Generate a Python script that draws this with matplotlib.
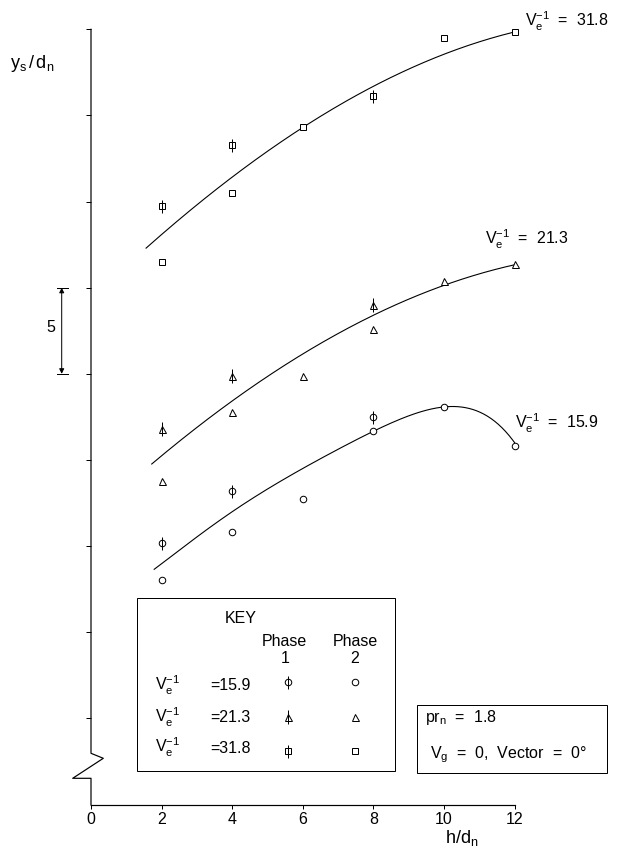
import numpy as np
import matplotlib
matplotlib.use("Agg")
from matplotlib import pyplot as plt
from matplotlib import transforms as mtransforms
from matplotlib.lines import Line2D
from matplotlib.patches import Rectangle

plt.rcParams['font.family'] = ['Liberation Sans', 'DejaVu Sans']
plt.rcParams['mathtext.fontset'] = 'custom'
plt.rcParams['mathtext.rm'] = 'Liberation Sans'
plt.rcParams['mathtext.it'] = 'Liberation Sans:italic'
plt.rcParams['mathtext.bf'] = 'Liberation Sans:bold'

W, H = 621, 857
FS = 16

# measured points, x = h/dn, y = ys/dn (axis has no numbers, 5 units per tick)
h_phase1 = [2, 4, 8]
h_phase2 = [2, 4, 6, 8, 10, 12]
h_phase2_318 = [2, 4, 6, 10, 12]

ys_318_p1 = [29.74, 33.28, 36.15]
ys_318_p2 = [26.51, 30.51, 34.31, 39.48, 39.83]
ys_213_p1 = [16.78, 19.85, 23.99]
ys_213_p2 = [13.78, 17.80, 19.87, 22.60, 25.39, 26.36]
ys_159_p1 = [10.19, 13.21, 17.51]
ys_159_p2 = [8.03, 10.80, 12.73, 16.70, 18.09, 15.81]

# the hand drawn curves
curve_318_h = [1.56, 4, 6, 8, 10, 12]
curve_318_ys = [27.29, 31.44, 34.31, 36.63, 38.61, 39.83]
curve_213_h = [1.72, 4, 6, 8, 10, 12]
curve_213_ys = [14.75, 18.48, 21.09, 23.41, 25.16, 26.32]
curve_159_h = [1.79, 3, 4, 5, 6, 7, 8, 9, 10, 11, 12]
curve_159_ys = [8.65, 10.54, 12.0, 13.29, 14.51, 15.63, 16.70, 17.51, 18.09, 17.80, 16.00]

series_names = ['15.9', '21.3', '31.8']
x_ticks = [0, 2, 4, 6, 8, 10, 12]
y_ticks = [0, 5, 10, 15, 20, 25, 30, 35, 40]
scale_bar = (20, 25)


def fitted(xs, ys, deg):
    c = np.polyfit(xs, ys, deg)
    xx = np.linspace(xs[0], xs[-1], 200)
    return xx, np.polyval(c, xx)


fig = plt.figure(figsize=(W / 72, H / 72), dpi=72)
fig.patch.set_facecolor('white')
# pixel coords from the top left corner
px = mtransforms.Affine2D().scale(1 / W, -1 / H).translate(0, 1) + fig.transFigure

x0, x12 = 91, 514.6
ytop, ybot = 29.3, 805
ax = fig.add_axes([x0 / W, 1 - ybot / H, (x12 - x0) / W, (ybot - ytop) / H])
ax.set_xlim(0, 12)
ax.set_ylim(-5.03, 40)
for s in ['top', 'right', 'left']:
    ax.spines[s].set_visible(False)
ax.spines['bottom'].set_linewidth(1.2)
ax.set_xticks(x_ticks)
ax.set_xticklabels([str(v) for v in x_ticks])
ax.tick_params(axis='x', direction='out', length=4, width=1, labelsize=FS, pad=3)
ax.set_yticks(y_ticks)
ax.tick_params(axis='y', direction='out', length=5, width=1, labelleft=False)

for cx, cy, deg in [(curve_318_h, curve_318_ys, 3), (curve_213_h, curve_213_ys, 3),
                    (curve_159_h, curve_159_ys, 5)]:
    sx, sy = fitted(cx, cy, deg)
    ax.plot(sx, sy, color='black', lw=1.1, clip_on=False, zorder=2)

mk = dict(ls='none', mfc='white', mec='black', mew=1, clip_on=False, zorder=3)
ax.plot(h_phase2_318, ys_318_p2, marker='s', ms=6.5, **mk)
ax.plot(h_phase1, ys_318_p1, marker='s', ms=6.5, **mk)
ax.plot(h_phase1, ys_318_p1, marker='|', ms=13, **mk)
ax.plot(h_phase2, ys_213_p2, marker='^', ms=7, **mk)
ax.plot(h_phase1, ys_213_p1, marker='^', ms=7, **mk)
ax.plot(h_phase1, ys_213_p1, marker='|', ms=14, **mk)
ax.plot(h_phase2, ys_159_p2, marker='o', ms=6.5, **mk)
ax.plot(h_phase1, ys_159_p1, marker='o', ms=6.5, **mk)
ax.plot(h_phase1, ys_159_p1, marker='|', ms=13, **mk)

# curve labels next to the curve ends
ends = [(curve_318_ys[-1], (10, 5.6)), (curve_213_ys[-1], (-29.6, 20)), (curve_159_ys[-1], (0.4, 14.4))]
for name, (yend, off) in zip(series_names[::-1], ends):
    ax.annotate(r'$\mathrm{V_e^{-1}}$  =  ' + name, xy=(12, yend), xytext=off,
                textcoords='offset points', ha='left', va='baseline', fontsize=FS,
                annotation_clip=False)

# y axis with the break
fig.add_artist(Line2D([91, 91, 103.3, 72.7, 91, 91], [29.3, 753.3, 758.3, 778.3, 778.3, 805],
                      transform=px, color='black', lw=1.2))

fig.text(10, 63, r'$\mathrm{y_s\,/\,d_n}$', transform=px, fontsize=18, ha='left', va='center')
fig.text(462, 838, r'$\mathrm{h/d_n}$', transform=px, fontsize=18, ha='center', va='center')

# 5 unit scale bar
bt = mtransforms.blended_transform_factory(px, ax.transData)
ax.annotate('', xy=(61.7, scale_bar[1]), xytext=(61.7, scale_bar[0]), xycoords=bt, textcoords=bt,
            arrowprops=dict(arrowstyle='<|-|>', color='black', lw=1, shrinkA=0, shrinkB=0,
                            mutation_scale=10), annotation_clip=False)
for v in scale_bar:
    fig.add_artist(Line2D([57, 68], [v, v], transform=bt, color='black', lw=1))
fig.text(51, 328, str(scale_bar[1] - scale_bar[0]), transform=px, fontsize=FS, ha='center', va='center')

# KEY box
fig.add_artist(Rectangle((137.3, 598.3), 257.7, 172.7, transform=px, fill=False, ec='black', lw=1))
fig.text(225, 619, 'KEY', transform=px, fontsize=FS, ha='left', va='center')
fig.text(262, 642, 'Phase', transform=px, fontsize=FS, ha='left', va='center')
fig.text(333, 642, 'Phase', transform=px, fontsize=FS, ha='left', va='center')
fig.text(285, 659, '1', transform=px, fontsize=FS, ha='center', va='center')
fig.text(355, 659, '2', transform=px, fontsize=FS, ha='center', va='center')

row_base = [690.5, 722.5, 753]
row_mark = [682, 717.5, 751]
shapes = [('o', 6.5, 13), ('^', 7, 14), ('s', 6.5, 13)]
for name, yb, ym, (m, ms, ls) in zip(series_names, row_base, row_mark, shapes):
    fig.text(155, yb, r'$\mathrm{V_e^{-1}}$', transform=px, fontsize=FS, ha='left', va='baseline')
    fig.text(210, yb, '=' + name, transform=px, fontsize=FS, ha='left', va='baseline')
    fig.add_artist(Line2D([288.3], [ym], transform=px, marker=m, ms=ms, ls='none',
                          mfc='white', mec='black', mew=1))
    fig.add_artist(Line2D([288.3], [ym], transform=px, marker='|', ms=ls, ls='none',
                          mec='black', mew=1))
    fig.add_artist(Line2D([355], [ym], transform=px, marker=m, ms=ms, ls='none',
                          mfc='white', mec='black', mew=1))

# conditions box
fig.add_artist(Rectangle((417, 705), 190, 68, transform=px, fill=False, ec='black', lw=1))
fig.text(425, 721.7, r'$\mathrm{pr_n}$  =  1.8', transform=px, fontsize=FS, ha='left', va='baseline')
fig.text(430, 758.3, r'$\mathrm{V_g}$  =  0,  Vector  =  0°', transform=px, fontsize=FS,
         ha='left', va='baseline')

fig.savefig('out.png', dpi=72)
